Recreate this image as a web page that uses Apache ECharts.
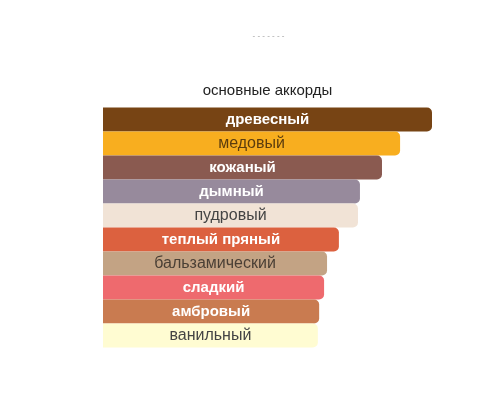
<!DOCTYPE html>
<html>
<head>
<meta charset="utf-8">
<script src="https://cdn.jsdelivr.net/npm/echarts@6/dist/echarts.min.js"></script>
<style>
html, body { margin: 0; padding: 0; background: #fff; }
#chart { width: 500px; height: 400px; }
</style>
</head>
<body>
<div id="chart"></div>
<script>
var accords = ['древесный', 'медовый', 'кожаный', 'дымный', 'пудровый',
    'теплый пряный', 'бальзамический', 'сладкий', 'амбровый', 'ванильный'];
var strength = [100, 90.3, 84.8, 78.1, 77.5, 71.7, 68.1, 67.2, 65.7, 65.3];
var barColors = ['#774414', '#f8ae1f', '#8a5a50', '#978a9c', '#f1e3d6',
    '#dc613f', '#c3a384', '#ee6a6e', '#c97b50', '#fffcd2'];
var textColors = ['#fff', '#5c3d0e', '#fff', '#fff', '#444',
    '#fff', '#4a3f35', '#fff', '#fff', '#444'];

var myChart = echarts.init(document.getElementById('chart'));

// white labels sit on dark bars and are drawn heavier
var data = strength.map(function (v, i) {
    var light = textColors[i] !== '#fff';
    return {
        value: v,
        itemStyle: { color: barColors[i] },
        label: {
            color: textColors[i],
            fontWeight: light ? 'normal' : 'bold',
            fontSize: light ? 16 : 15
        }
    };
});

option = {
    backgroundColor: '#fff',
    animation: false,
    grid: { left: 103, top: 107.5, width: 329, height: 240 },
    xAxis: { type: 'value', min: 0, max: 100, show: false },
    yAxis: {
        type: 'category',
        data: accords,
        inverse: true,
        show: false
    },
    graphic: [
        {
            type: 'text', x: 268.5, y: 36,
            style: {
                text: '- - - - - - -', fill: '#999',
                font: '8px "Liberation Sans"',
                textAlign: 'center', textVerticalAlign: 'middle'
            }
        },
        {
            type: 'text', x: 267.5, y: 91,
            style: {
                text: 'основные аккорды', fill: '#222',
                font: '15px "Liberation Sans"',
                textAlign: 'center', textVerticalAlign: 'middle'
            }
        }
    ],
    series: [{
        type: 'bar',
        barCategoryGap: 0,
        barWidth: '100%',
        itemStyle: { borderRadius: [0, 5, 5, 0] },
        label: {
            show: true,
            position: 'inside',
            formatter: '{b}',
            fontFamily: 'Liberation Sans'
        },
        data: data
    }]
};

myChart.setOption(option);
</script>
</body>
</html>
